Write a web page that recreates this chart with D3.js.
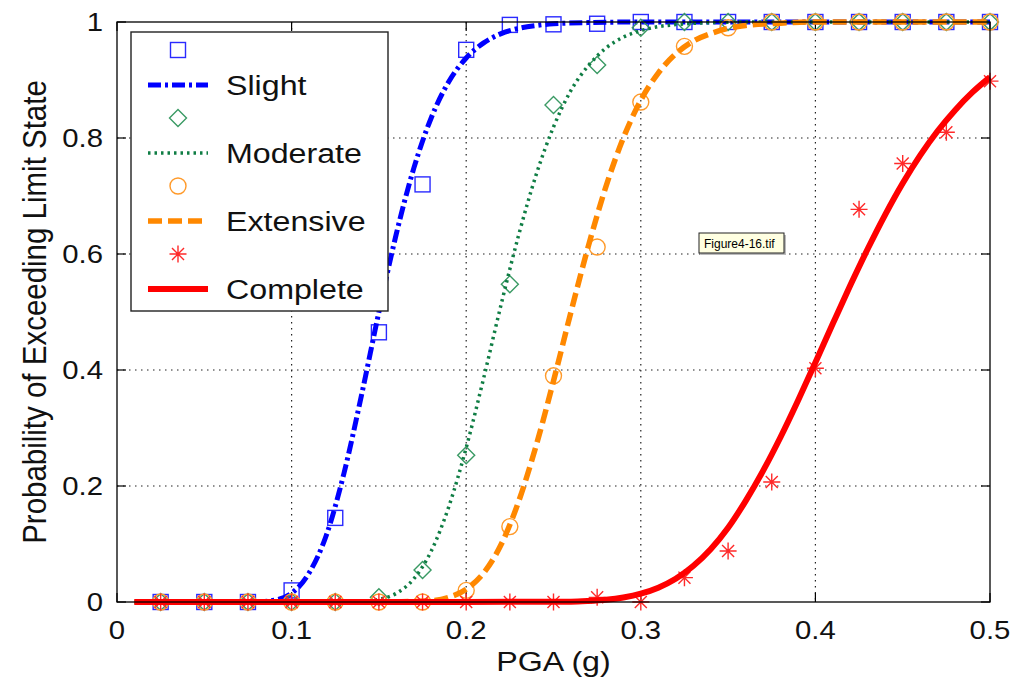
<!DOCTYPE html>
<html>
<head>
<meta charset="utf-8">
<script src="https://cdn.jsdelivr.net/npm/d3@7"></script>
<style>
  body { margin: 0; background: #fff; }
  svg { display: block; font-family: 'Liberation Sans', Arial, sans-serif; }
</style>
</head>
<body>
<div id="chart"></div>
<script>
// observed points (PGA steps of 0.025 g)
const pga = [0.025, 0.05, 0.075, 0.1, 0.125, 0.15, 0.175, 0.2, 0.225, 0.25,
  0.275, 0.3, 0.325, 0.35, 0.375, 0.4, 0.425, 0.45, 0.475, 0.5];
const slightPts = [0, 0, 0, 0.02, 0.145, 0.465, 0.72, 0.952, 0.995, 0.996,
  0.997, 1, 1, 1, 1, 1, 1, 1, 1, 1];
const moderatePts = [0, 0, 0, 0, 0, 0.008, 0.055, 0.253, 0.548, 0.857,
  0.926, 0.99, 1, 1, 1, 1, 1, 1, 1, 1];
const extensivePts = [0, 0, 0, 0, 0, 0, 0, 0.02, 0.13, 0.39,
  0.612, 0.862, 0.958, 0.99, 1, 1, 1, 1, 1, 1];
const completePts = [0, 0, 0, 0, 0, 0, 0, 0, 0, 0,
  0.008, 0, 0.042, 0.088, 0.207, 0.403, 0.677, 0.756, 0.81, 0.898];

// fitted curves
const slightX = [0.01, 0.05, 0.08, 0.09, 0.1, 0.11, 0.12, 0.13, 0.14, 0.15, 0.16, 0.17,
  0.18, 0.19, 0.2, 0.21, 0.22, 0.23, 0.24, 0.25, 0.27, 0.3, 0.5];
const slightY = [0, 0, 0, 0.003, 0.015, 0.05, 0.116, 0.222, 0.356, 0.5, 0.635, 0.748,
  0.835, 0.897, 0.938, 0.964, 0.98, 0.989, 0.994, 0.997, 0.999, 1, 1];
const moderateX = [0.01, 0.1, 0.14, 0.15, 0.16, 0.17, 0.18, 0.19, 0.2, 0.21, 0.22, 0.23,
  0.24, 0.25, 0.26, 0.27, 0.28, 0.29, 0.3, 0.31, 0.32, 0.34, 0.36, 0.5];
const moderateY = [0, 0, 0.001, 0.0045, 0.015, 0.04, 0.088, 0.164, 0.266, 0.386, 0.513, 0.632,
  0.736, 0.819, 0.882, 0.925, 0.955, 0.974, 0.985, 0.992, 0.9955, 0.999, 1, 1];
const extensiveX = [0.01, 0.15, 0.18, 0.19, 0.2, 0.21, 0.22, 0.23, 0.24, 0.25, 0.26, 0.27,
  0.28, 0.29, 0.3, 0.31, 0.32, 0.33, 0.34, 0.35, 0.36, 0.38, 0.4, 0.5];
const extensiveY = [0, 0, 0.0023, 0.008, 0.022, 0.05, 0.099, 0.173, 0.269, 0.381, 0.5, 0.614,
  0.716, 0.8, 0.865, 0.912, 0.945, 0.967, 0.98, 0.989, 0.994, 0.998, 1, 1];
const completeX = [0.01, 0.2, 0.26, 0.27, 0.28, 0.29, 0.3, 0.31, 0.32, 0.33, 0.34, 0.35,
  0.36, 0.37, 0.38, 0.39, 0.4, 0.41, 0.42, 0.43, 0.44, 0.45, 0.46, 0.47, 0.48, 0.49, 0.5];
const completeY = [0, 0, 0.0006, 0.0018, 0.0039, 0.0078, 0.0143, 0.0247, 0.04, 0.062, 0.091, 0.128,
  0.174, 0.226, 0.284, 0.347, 0.413, 0.48, 0.546, 0.609, 0.668, 0.722, 0.77, 0.812, 0.848, 0.879, 0.905];

const xTicks = [0, 0.1, 0.2, 0.3, 0.4, 0.5];
const yTicks = [0, 0.2, 0.4, 0.6, 0.8, 1];

const series = [
  { name: 'Slight', pts: slightPts, cx: slightX, cy: slightY, color: '#0000ff',
    mcolor: '#2a2aff', marker: 'square', width: 5, dash: '13,4,3,4' },
  { name: 'Moderate', pts: moderatePts, cx: moderateX, cy: moderateY, color: '#0f7d44',
    mcolor: '#3a9a64', marker: 'diamond', width: 3.5, dash: '2.5,4' },
  { name: 'Extensive', pts: extensivePts, cx: extensiveX, cy: extensiveY, color: '#ff8800',
    mcolor: '#ff9a2a', marker: 'circle', width: 5.5, dash: '14,6' },
  { name: 'Complete', pts: completePts, cx: completeX, cy: completeY, color: '#ff0000',
    mcolor: '#ff2a2a', marker: 'star', width: 6, dash: null },
];

const W = 1012, H = 680;
const margin = { top: 22, right: 22, bottom: 78, left: 117 };
const width = W - margin.left - margin.right;
const height = H - margin.top - margin.bottom;
const stretch = 1.15; // the figure's lettering is a little wide

const svg = d3.select('#chart').append('svg').attr('width', W).attr('height', H);
const g = svg.append('g').attr('transform', `translate(${margin.left},${margin.top})`);

const x = d3.scaleLinear().domain([0, 0.5]).range([0, width]);
const y = d3.scaleLinear().domain([0, 1]).range([height, 0]);

const label = (sel, tx, ty, txt, size, anchor, rot) => sel.append('text')
  .attr('transform', `translate(${tx},${ty}) scale(${stretch},1)${rot ? ' rotate(' + rot + ')' : ''}`)
  .attr('text-anchor', anchor).attr('font-size', size).attr('fill', '#111').text(txt);

// grid
g.append('g').selectAll('line').data(xTicks.slice(1, -1)).join('line')
  .attr('x1', (d) => x(d)).attr('x2', (d) => x(d))
  .attr('y1', 0).attr('y2', height)
  .attr('stroke', '#222').attr('stroke-width', 1.2).attr('stroke-dasharray', '1.5,4.5');
g.append('g').selectAll('line').data(yTicks.slice(1, -1)).join('line')
  .attr('y1', (d) => y(d)).attr('y2', (d) => y(d))
  .attr('x1', 0).attr('x2', width)
  .attr('stroke', '#222').attr('stroke-width', 1.2).attr('stroke-dasharray', '1.5,4.5');

// inward ticks on all four sides
const tl = 9;
const ticks = g.append('g').attr('stroke', '#000').attr('stroke-width', 1.2);
xTicks.forEach((t) => {
  ticks.append('line').attr('x1', x(t)).attr('x2', x(t)).attr('y1', height).attr('y2', height - tl);
  ticks.append('line').attr('x1', x(t)).attr('x2', x(t)).attr('y1', 0).attr('y2', tl);
});
yTicks.forEach((t) => {
  ticks.append('line').attr('y1', y(t)).attr('y2', y(t)).attr('x1', 0).attr('x2', tl);
  ticks.append('line').attr('y1', y(t)).attr('y2', y(t)).attr('x1', width).attr('x2', width - tl);
});

// tick labels
const fmt = d3.format('~g');
xTicks.forEach((t) => label(g, x(t), height + 37, fmt(t), 25.5, 'middle'));
yTicks.forEach((t) => label(g, -14, y(t) + 9, fmt(t), 25.5, 'end'));

// axis titles
label(svg, margin.left + x(0.25), 671, 'PGA (g)', 28, 'middle');
label(svg, 46, margin.top + height / 2, 'Probability of Exceeding Limit State', 29.5, 'middle', -90);

// markers
const drawMarker = (sel, type, color, cx, cy) => {
  if (type === 'square') {
    sel.append('rect').attr('x', cx - 7.5).attr('y', cy - 7.5).attr('width', 15).attr('height', 15)
      .attr('fill', 'none').attr('stroke', color).attr('stroke-width', 1.4);
  } else if (type === 'diamond') {
    sel.append('path').attr('d', `M${cx},${cy - 8.5}L${cx + 8.5},${cy}L${cx},${cy + 8.5}L${cx - 8.5},${cy}Z`)
      .attr('fill', 'none').attr('stroke', color).attr('stroke-width', 1.4);
  } else if (type === 'circle') {
    sel.append('circle').attr('cx', cx).attr('cy', cy).attr('r', 8)
      .attr('fill', 'none').attr('stroke', color).attr('stroke-width', 1.4);
  } else {
    const r = 8.5, d = r * Math.SQRT1_2;
    sel.append('path')
      .attr('d', `M${cx - r},${cy}H${cx + r}M${cx},${cy - r}V${cy + r}` +
        `M${cx - d},${cy - d}L${cx + d},${cy + d}M${cx - d},${cy + d}L${cx + d},${cy - d}`)
      .attr('stroke', color).attr('stroke-width', 1.4).attr('fill', 'none');
  }
};

const line = d3.line().x((d) => x(d[0])).y((d) => y(d[1])).curve(d3.curveMonotoneX);

series.forEach((s) => {
  const mg = g.append('g');
  s.pts.forEach((v, i) => drawMarker(mg, s.marker, s.mcolor, x(pga[i]), y(v)));
  g.append('path')
    .datum(s.cx.map((v, i) => [v, s.cy[i]]))
    .attr('d', line)
    .attr('fill', 'none')
    .attr('stroke', s.color)
    .attr('stroke-width', s.width)
    .attr('stroke-dasharray', s.dash);
});

// axes box
g.append('rect').attr('width', width).attr('height', height)
  .attr('fill', 'none').attr('stroke', '#000').attr('stroke-width', 1.3);

// legend
const lg = svg.append('g').attr('transform', 'translate(131,32)');
lg.append('rect').attr('width', 257).attr('height', 279)
  .attr('fill', '#fff').attr('stroke', '#222').attr('stroke-width', 1.4);
series.forEach((s, i) => {
  const y0 = 18 + i * 68;
  drawMarker(lg, s.marker, s.mcolor, 47, y0);
  lg.append('line').attr('x1', 17).attr('x2', 77).attr('y1', y0 + 35).attr('y2', y0 + 35)
    .attr('stroke', s.color).attr('stroke-width', s.width).attr('stroke-dasharray', s.dash);
  label(lg, 95, y0 + 45, s.name, 28, 'start');
});

// file tooltip
const tip = svg.append('g').attr('transform', 'translate(699,233)');
tip.append('rect').attr('x', 2).attr('y', 2).attr('width', 85).attr('height', 20).attr('fill', '#bbb');
tip.append('rect').attr('width', 85).attr('height', 20)
  .attr('fill', '#ffffe1').attr('stroke', '#222').attr('stroke-width', 1);
tip.append('text').attr('x', 5).attr('y', 15).attr('font-size', 12).attr('fill', '#000')
  .text('Figure4-16.tif');
</script>
</body>
</html>
